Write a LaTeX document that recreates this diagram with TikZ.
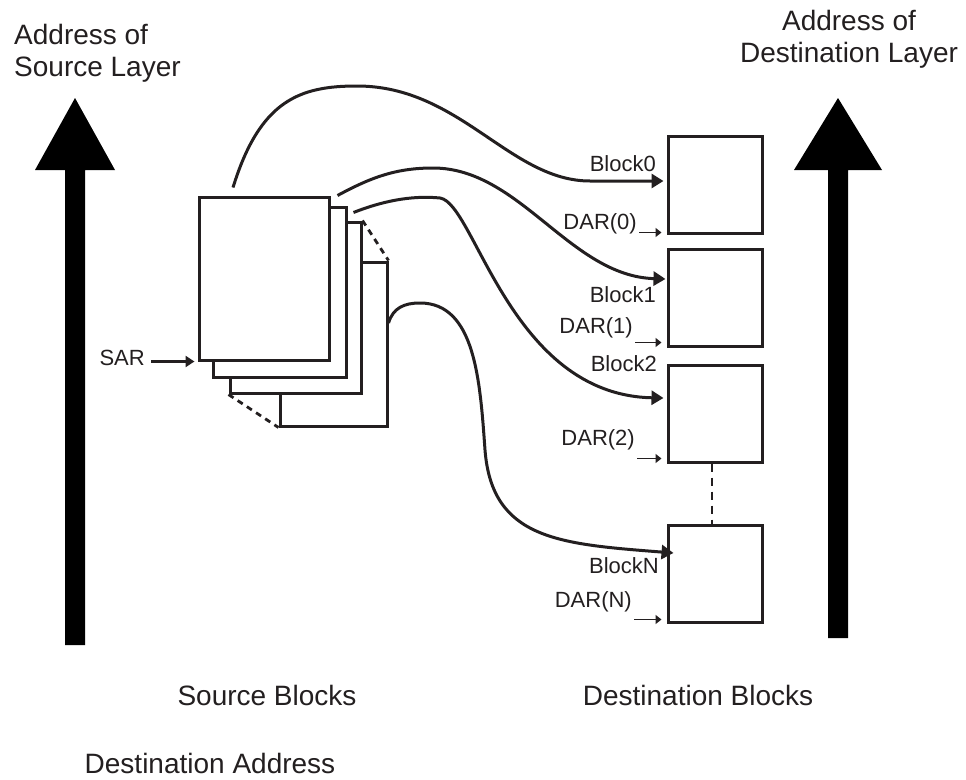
\documentclass[tikz,border=0pt]{standalone}
\usepackage{fontspec}
\setmainfont{Liberation Sans}
\usetikzlibrary{arrows.meta,positioning}
\definecolor{InkDark}{HTML}{231F20}

\begin{document}
\begin{tikzpicture}[
    x=1pt,y=-1pt,
    dblock/.style={
      draw=InkDark,
      line width=3pt,
      minimum width=94pt,
      minimum height=97pt,
      inner sep=0pt
    },
    sblock/.style={
      draw=InkDark,
      fill=white,
      line width=3pt,
      inner sep=0pt
    },
    lbl/.style={text=InkDark,inner sep=0pt,font=\fontsize{22}{26}\selectfont},
    title/.style={text=InkDark,inner sep=0pt,font=\fontsize{28}{32}\selectfont},
    flow/.style={draw=InkDark,line width=3pt,-{Triangle[length=12pt,width=14pt]}},
    ptr/.style={draw=InkDark,line width=1.8pt,-{Triangle[length=6pt,width=9pt]}},
    sarr/.style={draw=InkDark,line width=2.2pt,-{Triangle[length=9pt,width=11pt]}},
    gap/.style={draw=InkDark,line width=2.8pt,dash pattern=on 8pt off 6pt}
  ]
    \useasboundingbox (0,0) rectangle (966,779);

    \fill[black] (65,645) -- (65,170) -- (35,170) -- (75,98) -- (115,170) -- (85,170) -- (85,645) -- cycle;
    \fill[black] (828,638) -- (828,170) -- (794,170) -- (838,98) -- (882,170) -- (848,170) -- (848,638) -- cycle;

    \node[title,anchor=north west,align=left] (srcaddr) at (14,24) {Address of\\Source Layer};
    \node[title,anchor=north,align=center] (dstaddr) at (849,10) {Address of\\Destination Layer};

    \node[sblock,minimum width=107pt,minimum height=164pt] (src3) at (333.5,344) {};
    \node[sblock,minimum width=131pt,minimum height=171pt] (src2) at (295.5,307.5) {};
    \node[sblock,minimum width=133pt,minimum height=170pt] (src1) at (279.5,292) {};
    \node[sblock,minimum width=130pt,minimum height=163pt] (src0) at (264,278.5) {};
    \draw[gap,dash pattern=on 6pt off 5pt] (src2.north east) -- (src3.north east);
    \draw[gap,dash pattern=on 6pt off 5pt] (src2.south west) -- (src3.south west);

    \node[dblock] (blk0) at (715,184.5) {};
    \node[dblock,below=13pt of blk0] (blk1) {};
    \node[dblock,below=16pt of blk1] (blk2) {};
    \node[dblock,below=60pt of blk2] (blkN) {};
    \draw[gap] ([xshift=-3pt]blk2.south) -- ([xshift=-3pt]blkN.north);

    \node[lbl,anchor=base east] (lab0) at (656,171) {Block0};
    \node[lbl,anchor=base east] (lab1) at (656,302) {Block1};
    \node[lbl,anchor=base east] (lab2) at (657,371) {Block2};
    \node[lbl,anchor=base east] (labN) at (659,573) {BlockN};
    \node[lbl,anchor=base east] (dar0) at (637,229) {DAR(0)};
    \node[lbl,anchor=base east] (dar1) at (633,333) {DAR(1)};
    \node[lbl,anchor=base east] (dar2) at (635,445) {DAR(2)};
    \node[lbl,anchor=base east] (darN) at (632,607) {DAR(N)};
    \node[lbl,anchor=base east] (sar) at (145,365) {SAR};

    \coordinate (in0) at ([xshift=-3pt,yshift=3.5pt]blk0.west);
    \coordinate (in1) at ([xshift=-1pt,yshift=18.5pt]blk1.west);
    \coordinate (in2) at ([xshift=-3pt,yshift=15.5pt]blk2.west);
    \coordinate (inN) at ([xshift=7pt,yshift=20.5pt]blkN.west);
    \coordinate (out0) at ([xshift=-31pt,yshift=8pt]src0.north);
    \coordinate (out1) at ([xshift=7pt]src0.north east);
    \coordinate (out2) at ([xshift=6pt,yshift=-7pt]src1.north east);
    \coordinate (outN) at ([yshift=21pt]src3.east);

    \draw[flow] (out0) .. controls (260,100) and (300,86) .. (357,86) .. controls (460,86) and (510,181) .. (590,181) -- (in0);
    \draw[flow] (out1) .. controls (370,178) and (395,168) .. (433,168) .. controls (520,168) and (570,276) .. (in1);
    \draw[flow] (out2) .. controls (380,202) and (410,195) .. (440,198) .. controls (475,203) and (510,395) .. (in2);
    \draw[flow] (outN) .. controls (393,308) and (404,303) .. (420,303) .. controls (475,303) and (480,380) .. (485,450) .. controls (492,540) and (560,544) .. (inN);

    \coordinate (ptr0) at ([xshift=-5pt,yshift=2pt]blk0.south west);
    \coordinate (ptr1) at ([xshift=-5pt,yshift=5pt]blk1.south west);
    \coordinate (ptr2) at ([xshift=-5pt,yshift=5pt]blk2.south west);
    \coordinate (ptrN) at ([xshift=-5pt,yshift=4pt]blkN.south west);
    \draw[ptr] ([xshift=2pt]ptr0 -| dar0.east) -- (ptr0);
    \draw[ptr] ([xshift=2pt]ptr1 -| dar1.east) -- (ptr1);
    \draw[ptr] ([xshift=2pt]ptr2 -| dar2.east) -- (ptr2);
    \draw[ptr] ([xshift=2pt]ptrN -| darN.east) -- (ptrN);
    \coordinate (sarin) at ([xshift=-3pt]src0.south west);
    \draw[sarr] ([xshift=6pt]sarin -| sar.east) -- (sarin);

    \node[title,anchor=base] (srccap) at (267,705) {Source Blocks};
    \node[title,anchor=base] (dstcap) at (698,705) {Destination Blocks};
    \node[title,anchor=base] (dstaddrcap) at (210,773) {Destination Address};
\end{tikzpicture}
\end{document}
